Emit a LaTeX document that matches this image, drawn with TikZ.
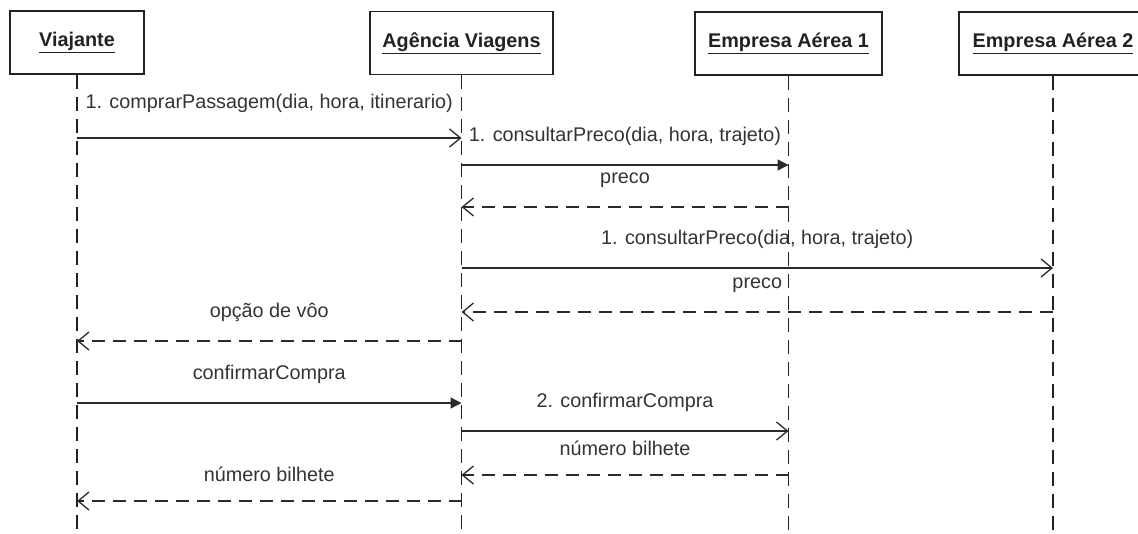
\documentclass[tikz,border=0pt]{standalone}
\usepackage{fontspec}
\setmainfont{Liberation Sans}
\usetikzlibrary{arrows.meta,calc}
\definecolor{ink}{HTML}{222222}
\definecolor{txt}{HTML}{333333}
\definecolor{wire}{HTML}{2A2A2A}
\tikzset{
  actor/.style={draw=ink, line width=1.4pt, fill=white, minimum height=63pt,
    inner sep=0pt, font=\fontsize{19.8}{24}\selectfont\bfseries, text=ink},
  lifeline/.style={draw=ink, line width=1.6pt, dash pattern=on 14pt off 8pt},
  call/.style={draw=wire, line width=1.4pt, -{Straight Barb[length=11pt,width=18pt,line width=1.3pt]}},
  callfilled/.style={draw=wire, line width=1.4pt, -{Triangle[length=11pt,width=11pt]}},
  reply/.style={draw=wire, line width=1.4pt, dash pattern=on 13pt off 8pt,
    -{Straight Barb[length=11pt,width=18pt,line width=1.3pt]}},
  msglabel/.style={font=\fontsize{19.8}{24}\selectfont, text=txt, inner sep=0pt},
}
\newcommand{\ul}[1]{\underline{#1}}
\begin{document}
\begin{tikzpicture}[x=1pt,y=-1pt]
\useasboundingbox (0,0) rectangle (1138,533);

% participants
\node[actor, minimum width=134pt] (V)  at (77,42.5)   {\ul{Viajante}};
\node[actor, minimum width=183pt] (A)  at (461.5,43)  {\ul{Agência Viagens}};
\node[actor, minimum width=187pt] (E1) at (788.5,43.5){\ul{Empresa Aérea 1}};
\node[actor, minimum width=188pt] (E2) at (1053,43.5) {\ul{Empresa Aérea 2}};

% lifelines
\coordinate (Vb)  at (77,533);
\coordinate (Ab)  at (461.5,533);
\coordinate (E1b) at (788.5,533);
\coordinate (E2b) at (1053,533);
\draw[lifeline] (V.south)  -- (Vb);
\draw[lifeline] (A.south)  -- (Ab);
\draw[lifeline] (E1.south) -- (E1b);
\draw[lifeline] (E2.south) -- (E2b);

% message rows
\coordinate (r1)  at (0,138);
\coordinate (r2)  at (0,165);
\coordinate (r3)  at (0,207);
\coordinate (r4)  at (0,268);
\coordinate (r5)  at (0,312);
\coordinate (r6)  at (0,341);
\coordinate (r7)  at (0,403);
\coordinate (r8)  at (0,431);
\coordinate (r9)  at (0,475);
\coordinate (r10) at (0,501);

% messages
\draw[call] (V|-r1) -- node[msglabel, above=25pt] {1. comprarPassagem(dia, hora, itinerario)} (A|-r1);
\draw[callfilled] (A|-r2) -- node[msglabel, above=19pt] {1. consultarPreco(dia, hora, trajeto)} (E1|-r2);
\draw[reply] (E1|-r3) -- node[msglabel, above=19pt] {preco} (A|-r3);
\draw[call] (A|-r4) -- node[msglabel, above=19pt] {1. consultarPreco(dia, hora, trajeto)} (E2|-r4);
\draw[reply] (E2|-r5) -- node[msglabel, above=19pt] {preco} (A|-r5);
\draw[reply] (A|-r6) -- node[msglabel, above=19pt] {opção de vôo} (V|-r6);
\draw[callfilled] (V|-r7) -- node[msglabel, above=19pt] {confirmarCompra} (A|-r7);
\draw[call] (A|-r8) -- node[msglabel, above=19pt] {2. confirmarCompra} (E1|-r8);
\draw[reply] (E1|-r9) -- node[msglabel, above=19pt] {número bilhete} (A|-r9);
\draw[reply] (A|-r10) -- node[msglabel, above=19pt] {número bilhete} (V|-r10);
\end{tikzpicture}
\end{document}
